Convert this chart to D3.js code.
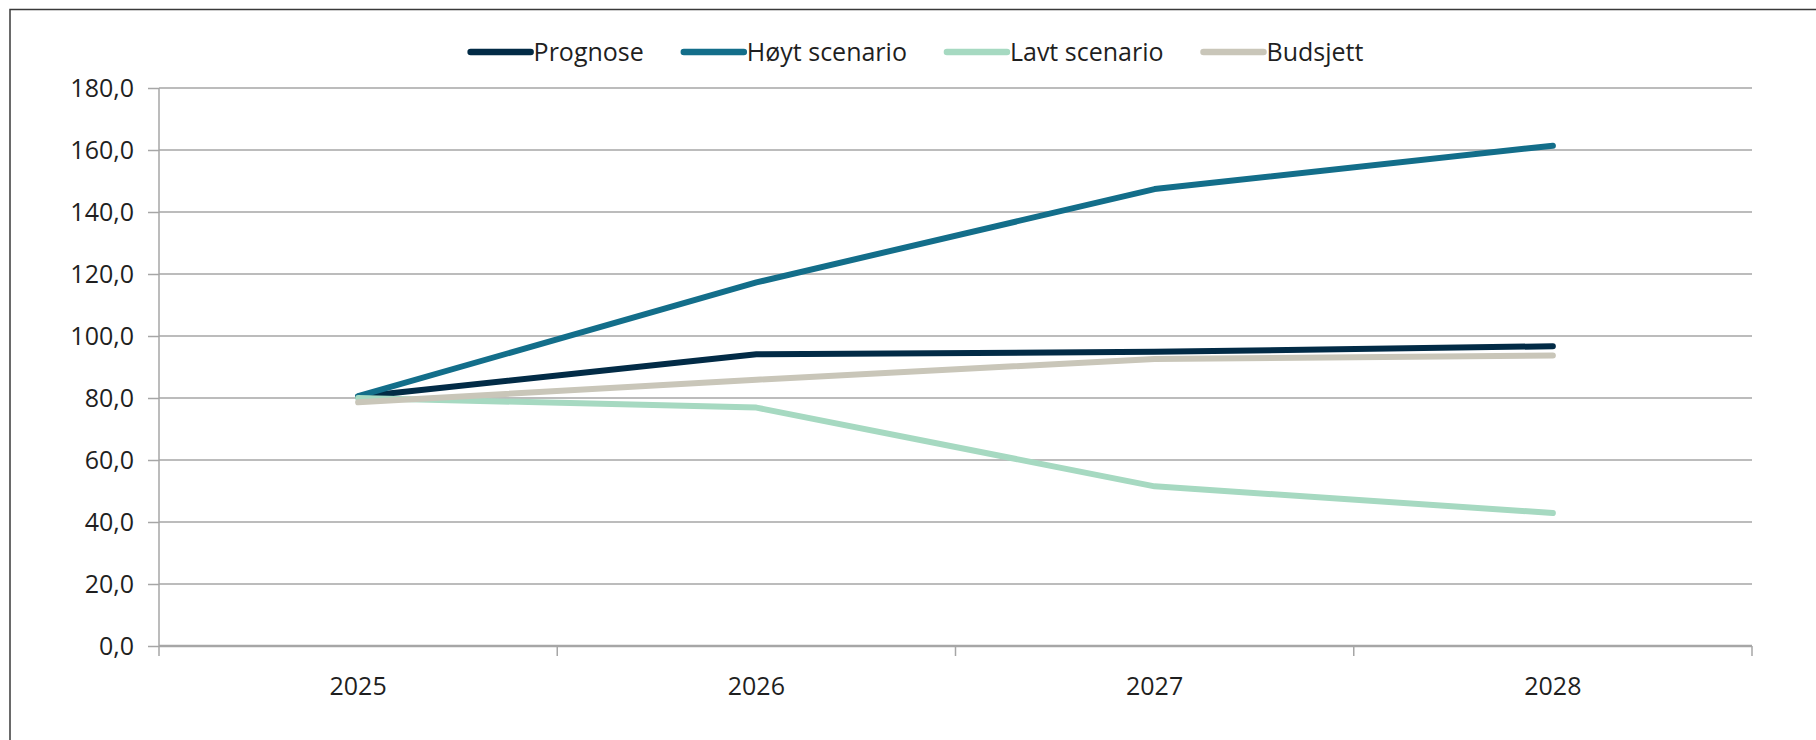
<!DOCTYPE html>
<html>
<head>
<meta charset="utf-8">
<script src="https://cdn.jsdelivr.net/npm/d3@7"></script>
<style>
  body { margin: 0; background: #fff; }
  svg { display: block; font-family: 'Open Sans', sans-serif; }
</style>
</head>
<body>
<div id="chart"></div>
<script>
// data
var years = ['2025', '2026', '2027', '2028'];
var seriesNames = ['Prognose', 'Høyt scenario', 'Lavt scenario', 'Budsjett'];
var seriesColors = ['#022b46', '#136e8a', '#a6d9c1', '#c9c6b9'];
var prognose = [80.4, 94.1, 94.9, 96.7];
var hoyt = [80.6, 117.3, 147.4, 161.4];
var lavt = [80.0, 76.9, 51.5, 42.9];
var budsjett = [78.6, 85.9, 92.6, 93.7];
var yTicks = [0, 20, 40, 60, 80, 100, 120, 140, 160, 180];

var svgWidth = 1816;
var svgHeight = 740;
var fontSize = '25px';

var margin = { top: 88, right: 64, bottom: 94, left: 159 };
var chartWidth = svgWidth - margin.left - margin.right;
var chartHeight = svgHeight - margin.top - margin.bottom;

var svg = d3.select('#chart')
  .append('svg')
  .attr('width', svgWidth)
  .attr('height', svgHeight);

// outer chart frame (only top and left visible in the crop)
svg.append('path')
  .attr('d', 'M10,' + svgHeight + ' L10,9.5 L' + svgWidth + ',9.5')
  .attr('fill', 'none')
  .attr('stroke', '#3a3a3a')
  .attr('stroke-width', 1.5);

var chartGroup = svg.append('g')
  .attr('transform', `translate(${margin.left}, ${margin.top})`);

// scales
var xScale = d3.scaleBand()
  .domain(years)
  .range([0, chartWidth])
  .padding(0);

var yScale = d3.scaleLinear()
  .domain([0, 180])
  .range([chartHeight, 0]);

function xCenter(d) {
  return xScale(d) + xScale.bandwidth() / 2;
}

// y axis ticks + labels
var leftAxis = d3.axisLeft(yScale)
  .tickValues(yTicks)
  .tickSize(11)
  .tickPadding(14)
  .tickFormat(d => d3.format('.1f')(d).replace('.', ','));

var yAxis = chartGroup.append('g').call(leftAxis);
yAxis.select('.domain').remove();
yAxis.selectAll('line').attr('stroke', '#a6a6a6').attr('stroke-width', 1.5);
yAxis.selectAll('text')
  .attr('font-size', fontSize)
  .attr('fill', '#1f1f1f')
  .attr('font-family', 'Open Sans, sans-serif');

// gridlines
chartGroup.append('g')
  .selectAll('line')
  .data(yTicks)
  .enter()
  .append('line')
  .attr('x1', 0)
  .attr('x2', chartWidth)
  .attr('y1', d => yScale(d))
  .attr('y2', d => yScale(d))
  .attr('stroke', '#a6a6a6')
  .attr('stroke-width', d => d === 0 ? 2.5 : 1.5);

// vertical axis line
chartGroup.append('line')
  .attr('x1', 0).attr('x2', 0)
  .attr('y1', 0).attr('y2', chartHeight + 10)
  .attr('stroke', '#a6a6a6')
  .attr('stroke-width', 1.5);

// x axis ticks at category boundaries
var boundaries = years.map(d => xScale(d)).concat([chartWidth]);
chartGroup.append('g')
  .selectAll('line')
  .data(boundaries.slice(1))
  .enter()
  .append('line')
  .attr('x1', d => d).attr('x2', d => d)
  .attr('y1', chartHeight)
  .attr('y2', chartHeight + 10)
  .attr('stroke', '#a6a6a6')
  .attr('stroke-width', 1.5);

chartGroup.append('g')
  .selectAll('text')
  .data(years)
  .enter()
  .append('text')
  .attr('x', d => xCenter(d))
  .attr('y', chartHeight + 40)
  .attr('dy', '0.35em')
  .attr('text-anchor', 'middle')
  .attr('font-size', fontSize)
  .attr('fill', '#1f1f1f')
  .text(d => d);

// lines (Budsjett drawn last, on top)
var allSeries = [prognose, hoyt, lavt, budsjett];
var line = d3.line()
  .x((d, i) => xCenter(years[i]))
  .y(d => yScale(d));

chartGroup.append('g')
  .selectAll('path')
  .data(allSeries)
  .enter()
  .append('path')
  .attr('d', d => line(d))
  .attr('fill', 'none')
  .attr('stroke', (d, i) => seriesColors[i])
  .attr('stroke-width', 6)
  .attr('stroke-linecap', 'round')
  .attr('stroke-linejoin', 'round');

// legend
var legendGroup = svg.append('g');
var legendY = 52;
var lineLen = 60;
var itemGap = 40;
var items = legendGroup.selectAll('g')
  .data(seriesNames)
  .enter()
  .append('g');

items.append('line')
  .attr('x1', 0).attr('x2', lineLen)
  .attr('y1', 0).attr('y2', 0)
  .attr('stroke', (d, i) => seriesColors[i])
  .attr('stroke-width', 6.5)
  .attr('stroke-linecap', 'round');

items.append('text')
  .attr('x', lineLen + 3)
  .attr('y', 0)
  .attr('dy', '0.35em')
  .attr('font-size', fontSize)
  .attr('fill', '#1f1f1f')
  .text(d => d);

var offsets = [];
var pos = 0;
items.each(function(d, i) {
  offsets.push(pos);
  var w = d3.select(this).select('text').node().getComputedTextLength();
  pos += lineLen + 3 + w + itemGap;
});
var totalWidth = pos - itemGap;
var legendStart = 917 - totalWidth / 2;
items.attr('transform', (d, i) => `translate(${legendStart + offsets[i]}, ${legendY})`);
</script>
</body>
</html>
